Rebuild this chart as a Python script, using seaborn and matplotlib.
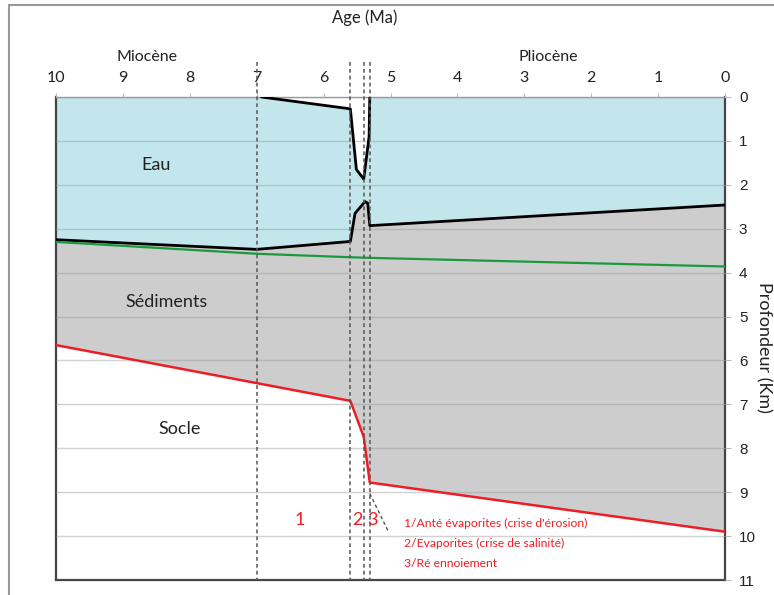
import matplotlib
matplotlib.use("Agg")
import matplotlib.pyplot as plt
from matplotlib.lines import Line2D
import seaborn as sns

# Données : âge (Ma) / profondeur (km)
age_ticks = list(range(0, 11))
depth_ticks = list(range(0, 12))

# surface de l'eau (creux pendant la crise de salinité)
top_eau_age = [10, 6.93, 5.6, 5.51, 5.40, 5.32, 5.31, 0]
top_eau_depth = [0, 0, 0.27, 1.65, 1.87, 0.9, 0, 0]

# toit des sédiments (fond de l'eau)
sed_age = [10, 7, 5.6, 5.53, 5.38, 5.34, 5.31, 0]
sed_depth = [3.25, 3.47, 3.29, 2.65, 2.38, 2.42, 2.93, 2.46]

# niveau repère vert
vert_age = [10, 7, 5.4, 0]
vert_depth = [3.30, 3.57, 3.66, 3.86]

# toit du socle
socle_age = [10, 5.6, 5.40, 5.31, 0]
socle_depth = [5.65, 6.92, 7.74, 8.78, 9.9]

# limites des étapes
etapes = [7, 5.6, 5.4, 5.31]

sns.set_theme(style="white")
plt.rcParams['font.family'] = ['Lato', 'DejaVu Sans']

fig = plt.figure(figsize=(7.74, 5.95), dpi=100)
ax = fig.add_axes([56 / 774, 1 - 580 / 595, (725 - 56) / 774, (580 - 97) / 595])

# remplissages
ax.fill(top_eau_age + sed_age[::-1], top_eau_depth + sed_depth[::-1],
        color='#c2e6ec', lw=0, zorder=0.5)
ax.fill(sed_age + socle_age[::-1], sed_depth + socle_depth[::-1],
        color='#cdcdcd', lw=0, zorder=0.5)

# contours
sns.lineplot(x=top_eau_age[1:-1], y=top_eau_depth[1:-1], sort=False, estimator=None,
             color='black', lw=2, ax=ax, zorder=3)
sns.lineplot(x=sed_age, y=sed_depth, sort=False, estimator=None,
             color='black', lw=2, ax=ax, zorder=3)
sns.lineplot(x=vert_age, y=vert_depth, sort=False, estimator=None,
             color='#1a9a3c', lw=1.6, ax=ax, zorder=3)
sns.lineplot(x=socle_age, y=socle_depth, sort=False, estimator=None,
             color='#ee1c24', lw=1.8, ax=ax, zorder=3)

for a in etapes:
    ax.plot([a, a], [-0.8, 11], ls=(0, (2.5, 2)), color='#555555', lw=1.1,
            clip_on=False, zorder=4)

# trait de rappel vers la légende
ax.plot([5.31, 5.04], [9.03, 9.87], ls=(0, (2.5, 2)), color='#555555', lw=1, zorder=4)

ax.set_xlim(10, 0)
ax.set_ylim(11, 0)
ax.xaxis.tick_top()
ax.yaxis.tick_right()
ax.set_xticks(age_ticks)
ax.set_yticks(depth_ticks)
ax.set_xticklabels([str(t) for t in age_ticks], fontsize=11.5)
ax.set_yticklabels([str(t) for t in depth_ticks], fontsize=11, family=['Liberation Sans'])
ax.tick_params(axis='x', length=3, width=0.8, pad=6, colors='#222222')
ax.tick_params(axis='y', length=4, width=0.8, pad=6, colors='#222222')
ax.tick_params(axis='both', which='both', color='#bbbbbb')

ax.set_axisbelow(False)
ax.yaxis.grid(True, color='#999999', alpha=0.45, lw=1)
ax.xaxis.grid(False)

for s in ['left', 'right', 'bottom']:
    ax.spines[s].set_color('#444444')
    ax.spines[s].set_linewidth(1.6)
ax.spines['top'].set_color('#999999')
ax.spines['top'].set_linewidth(1)

# étiquettes
ax.text(8.5, 1.55, "Eau", fontsize=13, ha='center', va='center', color='#222222')
ax.text(8.35, 4.67, "Sédiments", fontsize=13, ha='center', va='center', color='#222222')
ax.text(8.15, 7.55, "Socle", fontsize=13, ha='center', va='center', color='#222222')

for lab, a in zip(["1", "2", "3"], [6.35, 5.5, 5.27]):
    ax.text(a, 9.63, lab, fontsize=13, ha='center', va='center', color='#ee1c24')

legende = ["1/Anté évaporites (crise d'érosion)",
           "2/Evaporites (crise de salinité)",
           "3/Ré ennoiement"]
for i, t in enumerate(legende):
    ax.text(4.8, 9.72 + i * 0.45, t, fontsize=8.7, ha='left', va='center', color='#ee1c24')

fig.text(365 / 774, 1 - 18 / 595, "Age (Ma)", fontsize=12, ha='center', va='center', color='#222222')
fig.text(147 / 774, 1 - 57 / 595, "Miocène", fontsize=11.5, ha='center', va='center', color='#222222')
fig.text(548 / 774, 1 - 57 / 595, "Pliocène", fontsize=11.5, ha='center', va='center', color='#222222')
fig.text(764 / 774, 1 - 347 / 595, "Profondeur (Km)", fontsize=13, rotation=270,
         ha='center', va='center', color='#222222')

# cadre de la figure
fig.add_artist(Line2D([9 / 774, 9 / 774], [0, 1 - 5 / 595], transform=fig.transFigure,
                      color='#999999', lw=1.5))
fig.add_artist(Line2D([9 / 774, 1], [1 - 5 / 595, 1 - 5 / 595], transform=fig.transFigure,
                      color='#999999', lw=1.5))

fig.savefig("out.png", dpi=100)
